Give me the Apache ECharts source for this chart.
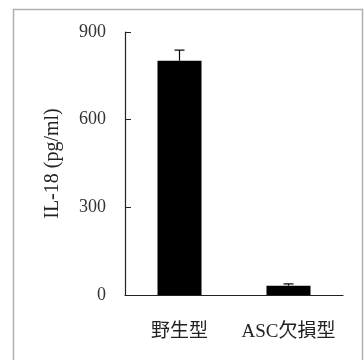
<!DOCTYPE html>
<html><head><meta charset="utf-8">
<script src="https://cdn.jsdelivr.net/npm/echarts@6/dist/echarts.min.js"></script>
<style>html,body{margin:0;padding:0;background:#fff}#c{width:364px;height:360px}</style>
</head><body><div id="c"></div>
<script>
const categories = ['野生型', 'ASC欠損型'];
const values = [802, 32];
const errors = [36, 6];
const yTicks = [0, 300, 600, 900];

const chart = echarts.init(document.getElementById('c'));
const latin = '"Liberation Serif", "DejaVu Serif", serif';
chart.setOption({
  animation: false,
  backgroundColor: '#fff',
  graphic: [{
    type: 'rect', shape: {x: 13.5, y: 9.5, width: 349, height: 360},
    style: {fill: 'none', stroke: '#b0b0b0', lineWidth: 1.5}, silent: true
  }],
  grid: {left: 125, right: 21, top: 32, bottom: 65},
  xAxis: {
    type: 'category', data: categories,
    axisLine: {lineStyle: {color: '#222', width: 1.2}},
    axisTick: {inside: true, length: 5, lineStyle: {color: '#222'}},
    axisLabel: {color: '#222', fontSize: 19, interval: 0, fontFamily: '"Liberation Serif", "Noto Sans CJK JP"', margin: 28}
  },
  yAxis: {
    type: 'value', min: 0, max: 900, interval: 300,
    name: 'IL-18 (pg/ml)', nameLocation: 'middle', nameGap: 62, nameRotate: 90,
    nameTextStyle: {color: '#222', fontSize: 20, fontFamily: latin},
    axisLine: {show: true, lineStyle: {color: '#222', width: 1.2}},
    axisTick: {show: true, inside: true, length: 6, lineStyle: {color: '#222'}},
    axisLabel: {color: '#333', fontSize: 18, fontFamily: latin, margin: 19,
      formatter: v => yTicks.includes(v) ? String(v) : ''},
    splitLine: {show: false}
  },
  series: [{
    type: 'bar', data: values, barWidth: 44,
    itemStyle: {color: '#000'}
  }, {
    type: 'custom',
    data: values.map((v, i) => [i, v, v + errors[i]]),
    renderItem: function (params, api) {
      const p0 = api.coord([api.value(0), api.value(1)]);
      const p1 = api.coord([api.value(0), api.value(2)]);
      const hw = 5;
      const st = {stroke: '#000', lineWidth: 1.2};
      return {type: 'group', children: [
        {type: 'line', shape: {x1: p0[0], y1: p0[1], x2: p1[0], y2: p1[1]}, style: st},
        {type: 'line', shape: {x1: p1[0] - hw, y1: p1[1], x2: p1[0] + hw, y2: p1[1]}, style: st}
      ]};
    },
    z: 3
  }]
});
</script></body></html>
